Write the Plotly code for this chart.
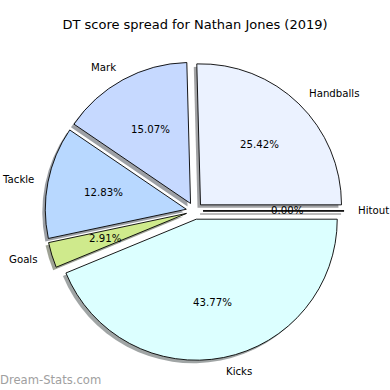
import numpy as np
import plotly.graph_objects as go

# ---- data (matplotlib default order: counter-clockwise from 3 o'clock) ----
categories = ["Handballs", "Mark", "Tackle", "Goals", "Kicks", "Hitout"]
values = [25.42, 15.07, 12.83, 2.91, 43.77, 0.00]
colors = ["#ebf2ff", "#c6d9ff", "#b8d8ff", "#cfea8c", "#dcffff", "#ffffff"]
title_text = "DT score spread for Nathan Jones (2019)"
watermark = "Dream-Stats.com"

# ---- layout geometry (pixels) ----
W = H = 390
R = 141.0               # pie radius in px
CX, CY = 194.6, 210.9   # pie centre in px (from top-left)
PULL = 0.06
SH = 3.0                # shadow offset px

half = (1 + PULL) * R


def dom_x(dx=0.0):
    return [(CX - half + dx) / W, (CX + half + dx) / W]


def dom_y(dy=0.0):
    return [1 - (CY + half + dy) / H, 1 - (CY - half + dy) / H]


def shadow(c):
    c = c.lstrip("#")
    r, g, b = (int(c[i:i + 2], 16) for i in (0, 2, 4))
    return f"rgba({int(r*0.3)},{int(g*0.3)},{int(b*0.3)},0.5)"


vals = np.array(values, dtype=float)
total = vals.sum()
frac = vals / total
cum = np.concatenate([[0], np.cumsum(frac)])
theta1 = np.deg2rad(360 * cum[:-1])
theta2 = np.deg2rad(360 * cum[1:])
thetam = (theta1 + theta2) / 2
offx = PULL * np.cos(thetam)
offy = PULL * np.sin(thetam)

# plotly (counterclockwise) puts the first slice clockwise of `rotation`;
# choose rotation so the first slice starts at 3 o'clock, like matplotlib
rotation = 90 - 360 * frac[0]

fig = go.Figure()

pie_common = dict(labels=categories, values=values, sort=False,
                  direction="counterclockwise", rotation=rotation,
                  pull=[PULL] * len(values), textinfo="none", showlegend=False)

# shadow pie
fig.add_trace(go.Pie(
    **pie_common,
    marker=dict(colors=[shadow(c) for c in colors], line=dict(width=0)),
    hoverinfo="skip",
    domain=dict(x=dom_x(-SH), y=dom_y(SH)),
))
# main pie
fig.add_trace(go.Pie(
    **pie_common,
    marker=dict(colors=colors, line=dict(color="#000000", width=0.9)),
    domain=dict(x=dom_x(), y=dom_y()),
))

# zero-size wedges are drawn as a line (like matplotlib)
sh_u = SH / R
for i, v in enumerate(values):
    if v == 0:
        xs = [offx[i], offx[i] + np.cos(thetam[i])]
        ys = [offy[i], offy[i] + np.sin(thetam[i])]
        fig.add_trace(go.Scatter(x=[x - sh_u for x in xs], y=[y - sh_u for y in ys],
                                 mode="lines", line=dict(color="rgba(77,77,77,0.5)", width=1.5),
                                 hoverinfo="skip", showlegend=False))
        fig.add_trace(go.Scatter(x=xs, y=ys, mode="lines",
                                 line=dict(color="#000000", width=1),
                                 hoverinfo="skip", showlegend=False))

annotations = []
font = dict(family="DejaVu Sans", size=10.2, color="#000000")
for i, (lab, f) in enumerate(zip(categories, frac)):
    xt = offx[i] + 1.1 * np.cos(thetam[i])
    yt = offy[i] + 1.1 * np.sin(thetam[i])
    annotations.append(dict(x=xt, y=yt, xref="x", yref="y", text=lab, showarrow=False,
                            xanchor="left" if xt > 0 else "right", yanchor="middle",
                            borderpad=0, borderwidth=0, font=font))
    xp = offx[i] + 0.6 * np.cos(thetam[i])
    yp = offy[i] + 0.6 * np.sin(thetam[i])
    annotations.append(dict(x=xp, y=yp, xref="x", yref="y", text=f"{f*100:.2f}%",
                            showarrow=False, xanchor="center", yanchor="middle",
                            borderpad=0, borderwidth=0, font=font))

annotations.append(dict(x=0, y=1 - 380 / H, xref="paper", yref="paper", text=watermark,
                        showarrow=False, xanchor="left", yanchor="middle",
                        borderpad=0, borderwidth=0,
                        font=dict(family="DejaVu Sans", size=11.6, color="#a0a0a0")))

fig.update_layout(
    width=W, height=H, margin=dict(l=0, r=0, t=0, b=0),
    paper_bgcolor="white", plot_bgcolor="rgba(0,0,0,0)",
    title=dict(text=title_text, x=0.5, xanchor="center", y=1 - 24 / H, yanchor="middle",
               font=dict(family="DejaVu Sans", size=13, color="#000000")),
    # full-paper axes: 1 data unit = pie radius, origin at the pie centre
    xaxis=dict(domain=[0, 1], range=[-CX / R, (W - CX) / R], visible=False, fixedrange=True),
    yaxis=dict(domain=[0, 1], range=[-(H - CY) / R, CY / R], visible=False, fixedrange=True),
    annotations=annotations,
)

fig.write_html("out.html", config={"displayModeBar": False},
               post_script="document.body.style.margin='0';")
